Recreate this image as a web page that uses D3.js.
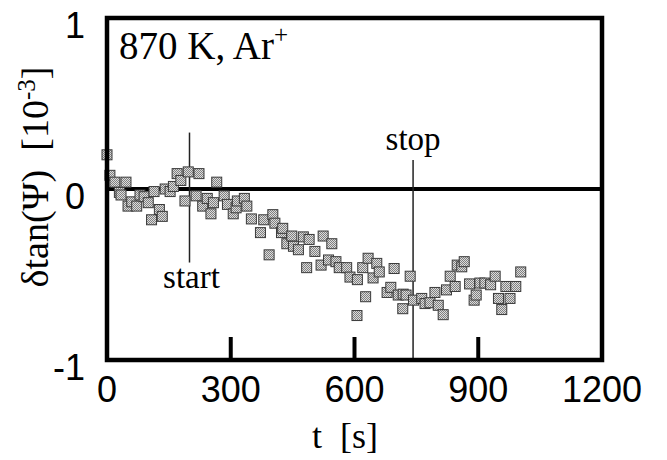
<!DOCTYPE html>
<html>
<head>
<meta charset="utf-8">
<script src="https://cdn.jsdelivr.net/npm/d3@7"></script>
<style>
  body { margin: 0; background: #fff; }
  svg { display: block; }
</style>
</head>
<body>
<svg></svg>
<script>
var width = 667;
var height = 460;

// time [s]
var times = [0, 7, 19, 30, 34, 46, 51, 60, 72, 80, 90, 100, 108, 114, 127, 134, 141, 153, 161, 170,
  179, 189, 197, 216, 223, 232, 243, 252, 258, 266, 284, 292, 306, 313, 316, 333, 339, 350, 372, 380,
  393, 402, 407, 423, 426, 436, 448, 452, 464, 476, 484, 490, 504, 519, 524, 537, 545, 555, 563, 581,
  589, 606, 607, 620, 627, 633, 645, 654, 660, 679, 688, 696, 706, 717, 718, 725, 735, 743, 763, 771,
  783, 795, 803, 815, 823, 832, 844, 849, 860, 866, 879, 890, 895, 904, 916, 930, 941, 949, 957, 967,
  977, 991, 1003];
// dtan(Psi) [1e-3]
var values = [0.20, 0.08, 0.04, -0.02, -0.035, 0.04, -0.10, -0.075, -0.10, -0.035, -0.045, -0.08, -0.18, -0.015, -0.12, -0.16, 0.00, -0.015, 0.015, 0.09,
  0.05, -0.07, 0.10, -0.04, 0.09, -0.10, -0.055, -0.145, -0.08, 0.04, -0.04, -0.09, -0.145, -0.11, -0.07, -0.055, -0.10, -0.175, -0.255, -0.18,
  -0.385, -0.15, -0.20, -0.255, -0.23, -0.32, -0.275, -0.335, -0.355, -0.28, -0.46, -0.295, -0.365, -0.445, -0.275, -0.415, -0.32, -0.425, -0.46, -0.46,
  -0.515, -0.74, -0.53, -0.46, -0.63, -0.405, -0.52, -0.435, -0.485, -0.605, -0.575, -0.465, -0.62, -0.70, -0.615, -0.62, -0.51, -0.65, -0.64, -0.67,
  -0.665, -0.605, -0.68, -0.735, -0.59, -0.51, -0.57, -0.445, -0.455, -0.425, -0.555, -0.65, -0.62, -0.55, -0.55, -0.56, -0.51, -0.64, -0.705, -0.57,
  -0.64, -0.57, -0.485];

var xTicks = [0, 300, 600, 900, 1200];
var yTicks = [1, 0, -1];
var startT = 200, stopT = 742;

var serif = "'Liberation Serif', 'Times New Roman', serif";
var sans = "'Liberation Sans', Arial, sans-serif";

var svg = d3.select("svg")
  .attr("width", width)
  .attr("height", height);

var x = d3.scaleLinear().domain([0, 1200]).range([107, 602]);
var y = d3.scaleLinear().domain([-1, 1]).range([360, 18]);

// dithered grey fill for the squares
var pat = svg.append("defs").append("pattern")
  .attr("id", "dots")
  .attr("width", 2).attr("height", 2)
  .attr("patternUnits", "userSpaceOnUse");
pat.append("rect").attr("width", 2).attr("height", 2).attr("fill", "#dcdcdc");
pat.append("rect").attr("width", 1).attr("height", 1).attr("fill", "#808080");
pat.append("rect").attr("x", 1).attr("y", 1).attr("width", 1).attr("height", 1).attr("fill", "#808080");

// zero line
svg.append("line")
  .attr("x1", x(0)).attr("x2", x(1200))
  .attr("y1", y(0)).attr("y2", y(0))
  .attr("stroke", "#000")
  .attr("stroke-width", 4);

// start / stop markers
svg.append("line")
  .attr("x1", x(startT)).attr("x2", x(startT))
  .attr("y1", y(0.33)).attr("y2", y(-0.43))
  .attr("stroke", "#222").attr("stroke-width", 1.5);
svg.append("line")
  .attr("x1", x(stopT)).attr("x2", x(stopT))
  .attr("y1", y(0.17)).attr("y2", y(-1))
  .attr("stroke", "#222").attr("stroke-width", 1.5);

// data squares
var s = 10;
svg.append("g").selectAll("rect")
  .data(times.map(function(t, i) { return [t, values[i]]; }))
  .enter().append("rect")
  .attr("x", function(d) { return x(d[0]) - s / 2; })
  .attr("y", function(d) { return y(d[1]) - s / 2; })
  .attr("width", s).attr("height", s)
  .attr("fill", "url(#dots)")
  .attr("stroke", "#3a3a3a")
  .attr("stroke-width", 1);

// frame
svg.append("rect")
  .attr("x", x(0)).attr("y", y(1))
  .attr("width", x(1200) - x(0))
  .attr("height", y(-1) - y(1))
  .attr("fill", "none")
  .attr("stroke", "#000")
  .attr("stroke-width", 4.5);

// inner ticks on the bottom
svg.append("g").selectAll("line")
  .data(xTicks.slice(1, -1))
  .enter().append("line")
  .attr("x1", function(d) { return x(d); })
  .attr("x2", function(d) { return x(d); })
  .attr("y1", y(-1)).attr("y2", y(-1) - 23)
  .attr("stroke", "#000").attr("stroke-width", 4);

// tick labels
svg.append("g").selectAll("text")
  .data(xTicks)
  .enter().append("text")
  .attr("x", function(d) { return x(d); })
  .attr("y", 402)
  .attr("text-anchor", "middle")
  .style("font-family", sans).style("font-size", "36px")
  .text(function(d) { return d; });

svg.append("g").selectAll("text")
  .data(yTicks)
  .enter().append("text")
  .attr("x", 85)
  .attr("y", function(d) { return y(d) + 20; })
  .attr("text-anchor", "end")
  .style("font-family", sans).style("font-size", "36px")
  .text(function(d) { return d; });

// axis titles
svg.append("text")
  .attr("x", 345).attr("y", 448)
  .attr("text-anchor", "middle")
  .style("font-family", serif).style("font-size", "36px")
  .attr("xml:space", "preserve")
  .text("t  [s]");

var yl = svg.append("text")
  .attr("transform", "translate(48,177) rotate(-90)")
  .attr("text-anchor", "middle")
  .style("font-family", serif).style("font-size", "38px")
  .attr("xml:space", "preserve");
yl.append("tspan").text("\u03b4tan(\u03a8)  [10");
yl.append("tspan").attr("dy", -13).style("font-size", "25px").text("-3");
yl.append("tspan").attr("dy", 13).text("]");

// annotations
var lab = svg.append("text")
  .attr("x", 119).attr("y", 59)
  .style("font-family", serif).style("font-size", "39px");
lab.append("tspan").text("870 K, Ar");
lab.append("tspan").attr("dy", -16).style("font-size", "25px").text("+");

svg.append("text")
  .attr("x", x(startT) + 2).attr("y", 288)
  .attr("text-anchor", "middle")
  .style("font-family", serif).style("font-size", "33px")
  .text("start");

svg.append("text")
  .attr("x", x(stopT)).attr("y", 150)
  .attr("text-anchor", "middle")
  .style("font-family", serif).style("font-size", "33px")
  .text("stop");
</script>
</body>
</html>
